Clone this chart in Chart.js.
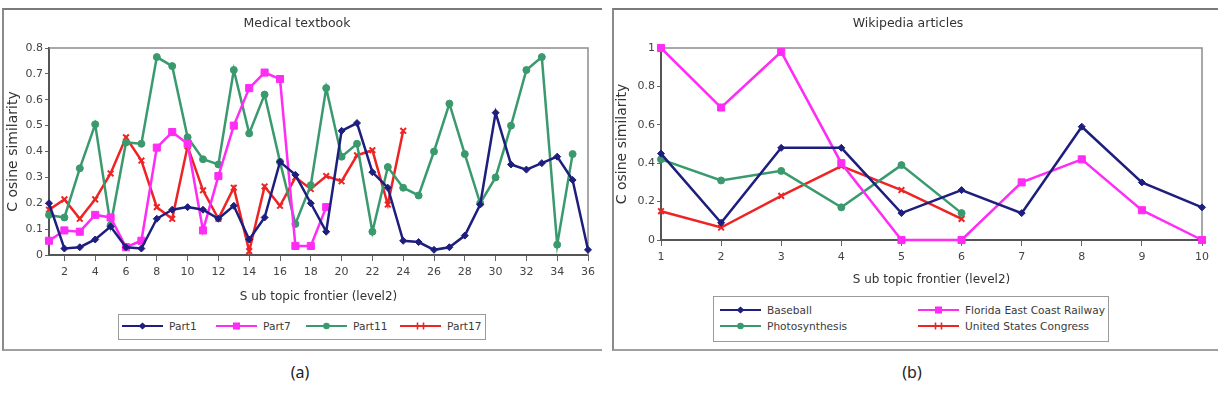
<!DOCTYPE html>
<html>
<head>
<meta charset="utf-8">
<script src="https://cdn.jsdelivr.net/npm/chart.js@4.4.1/dist/chart.umd.min.js"></script>
<style>
  body { margin: 0; background: #fff; width: 1218px; height: 393px; position: relative; overflow: hidden;
         font-family: 'DejaVu Sans', sans-serif; }
  .panel { position: absolute; top: 8px; height: 339px; border-top: 2px solid #7a7a7a;
           border-left: 2px solid #8a8a8a; border-bottom: 2px solid #a0a0a0; }
  #panelA { left: 2px; width: 598px; }
  #panelB { left: 612px; width: 604px; }
  canvas { position: absolute; }
  .legend { position: absolute; border: 1px solid #9a9a9a; background: #fff; font-size: 10.6px; color: #3a3a3a;
            font-family: 'DejaVu Sans', sans-serif; }
  .item { position: absolute; display: flex; align-items: center; height: 12px; white-space: nowrap; }
  .item svg { margin-right: 6px; }
  .caption { position: absolute; top: 361px; width: 60px; text-align: center;
             font: 16px 'Noto Sans', sans-serif; color: #222; }
</style>
</head>
<body>
<div class="panel" id="panelA"></div>
<div class="panel" id="panelB"></div>
<canvas id="chartA" width="596" height="338" style="left:4px;top:10px"></canvas>
<canvas id="chartB" width="602" height="338" style="left:614px;top:10px"></canvas>

<div class="legend" id="legendA" style="left:118px;top:314px;width:366px;height:24px"></div>
<div class="legend" id="legendB" style="left:713px;top:296px;width:394px;height:44px"></div>

<div class="caption" style="left:270px">(a)</div>
<div class="caption" style="left:882px">(b)</div>

<script>
// Panell (a): Medical textbook
const frontierA = [1, 2, 3, 4, 5, 6, 7, 8, 9, 10, 11, 12, 13, 14, 15, 16, 17, 18,
                   19, 20, 21, 22, 23, 24, 25, 26, 27, 28, 29, 30, 31, 32, 33, 34, 35, 36];
const xTicksA = [2, 4, 6, 8, 10, 12, 14, 16, 18, 20, 22, 24, 26, 28, 30, 32, 34, 36];
const yTicksA = [0, 0.1, 0.2, 0.3, 0.4, 0.5, 0.6, 0.7, 0.8];

const part1 = [0.20, 0.025, 0.03, 0.06, 0.11, 0.03, 0.025, 0.14, 0.175, 0.185, 0.175, 0.14,
               0.19, 0.06, 0.145, 0.36, 0.31, 0.20, 0.09, 0.48, 0.51, 0.32, 0.26, 0.055,
               0.05, 0.02, 0.03, 0.075, 0.195, 0.55, 0.35, 0.33, 0.355, 0.38, 0.29, 0.02];
const part7 = [0.055, 0.095, 0.09, 0.155, 0.145, 0.03, 0.055, 0.415, 0.475, 0.43, 0.095, 0.305,
               0.50, 0.645, 0.705, 0.68, 0.035, 0.035, 0.185];
const part11 = [0.155, 0.145, 0.335, 0.505, 0.115, 0.435, 0.43, 0.765, 0.73, 0.455, 0.37, 0.35,
                0.715, 0.47, 0.62, 0.36, 0.12, 0.27, 0.645, 0.38, 0.43, 0.09, 0.34, 0.26,
                0.23, 0.40, 0.585, 0.39, 0.20, 0.30, 0.50, 0.715, 0.765, 0.04, 0.39];
const part17 = [0.175, 0.215, 0.14, 0.215, 0.315, 0.455, 0.365, 0.185, 0.14, 0.42, 0.25, 0.14,
                0.26, 0.015, 0.265, 0.19, 0.30, 0.255, 0.305, 0.285, 0.385, 0.405, 0.195, 0.48];

// Panell (b): Wikipedia articles
const frontierB = [1, 2, 3, 4, 5, 6, 7, 8, 9, 10];
const yTicksB = [0, 0.2, 0.4, 0.6, 0.8, 1];

const baseball = [0.45, 0.09, 0.48, 0.48, 0.14, 0.26, 0.14, 0.59, 0.30, 0.17];
const florida = [1.0, 0.69, 0.98, 0.40, 0, 0, 0.30, 0.42, 0.155, 0];
const photosynthesis = [0.42, 0.31, 0.36, 0.17, 0.39, 0.14];
const congress = [0.15, 0.065, 0.23, 0.385, 0.26, 0.11];

const FONT = "'DejaVu Sans', sans-serif";
const NAVY = '#1e1e7e';
const MAGENTA = '#ff2cf5';
const GREEN = '#3a9a6e';
const RED = '#ee2424';

Chart.defaults.font.family = FONT;
Chart.defaults.color = '#444';

function points(xs, ys) {
  return ys.map((y, i) => ({ x: xs[i], y: y }));
}

function series(label, xs, ys, color, style, radius) {
  return {
    label: label,
    data: points(xs, ys),
    borderColor: color,
    backgroundColor: color,
    pointBackgroundColor: color,
    pointBorderColor: color,
    pointStyle: style,
    pointRadius: radius,
    pointBorderWidth: style === 'crossRot' ? 2 : 1,
    borderWidth: 2.5,
    tension: 0,
    fill: false,
    clip: false
  };
}

// marc superior i dret de l'àrea del gràfic
const plotFrame = {
  id: 'plotFrame',
  beforeDatasetsDraw(chart) {
    const { ctx, chartArea: a } = chart;
    ctx.save();
    ctx.strokeStyle = '#8c8c8c';
    ctx.lineWidth = 1.5;
    ctx.beginPath();
    ctx.moveTo(a.left, a.top);
    ctx.lineTo(a.right, a.top);
    ctx.lineTo(a.right, a.bottom);
    ctx.stroke();
    ctx.restore();
  }
};

function makeChart(id, o) {
  return new Chart(document.getElementById(id), {
    type: 'line',
    data: { datasets: o.datasets },
    plugins: [plotFrame],
    options: {
      responsive: false,
      animation: false,
      layout: { padding: { left: 0, top: 0, right: o.padRight, bottom: o.padBottom } },
      plugins: {
        legend: { display: false },
        tooltip: { enabled: false },
        title: {
          display: true,
          text: o.title,
          color: '#333',
          font: { family: FONT, size: 12.5, weight: 'normal', lineHeight: 1.2 },
          padding: { top: 6.5, bottom: 16.5 }
        }
      },
      scales: {
        x: {
          type: 'linear',
          min: o.xMin,
          max: o.xMax,
          afterBuildTicks: s => { s.ticks = o.xTicks.map(v => ({ value: v })); },
          grid: { drawOnChartArea: false, drawTicks: true, tickLength: 6, tickColor: '#666' },
          border: { display: true, color: '#555', width: 2 },
          ticks: { font: { size: 11 }, padding: 5, maxRotation: 0, color: '#444',
                   callback: v => String(v) },
          title: {
            display: true,
            text: 'S ub topic frontier (level2)',
            color: '#333',
            font: { size: 12, lineHeight: 1.2 },
            padding: { top: o.xTitlePad, bottom: 0 }
          }
        },
        y: {
          type: 'linear',
          min: 0,
          max: o.yMax,
          afterBuildTicks: s => { s.ticks = o.yTicks.map(v => ({ value: v })); },
          afterFit: s => { s.width = o.yWidth; },
          grid: { drawOnChartArea: false, drawTicks: true, tickLength: 4, tickColor: '#666' },
          border: { display: true, color: '#555', width: 2 },
          ticks: { font: { size: 11 }, padding: 2, color: '#444', callback: v => String(v) },
          title: {
            display: true,
            text: 'C osine similarity',
            color: '#333',
            font: { size: 14, lineHeight: 1.2 },
            padding: { top: o.yTitlePad, bottom: 0 }
          }
        }
      }
    }
  });
}

makeChart('chartA', {
  title: 'Medical textbook',
  datasets: [
    series('Part1', frontierA, part1, NAVY, 'rectRot', 3.5),
    series('Part7', frontierA, part7, MAGENTA, 'rect', 5),
    series('Part11', frontierA, part11, GREEN, 'circle', 3.5),
    series('Part17', frontierA, part17, RED, 'crossRot', 4)
  ],
  xMin: 1, xMax: 36, xTicks: xTicksA,
  yMax: 0.8, yTicks: yTicksA,
  padRight: 10, padBottom: 43.8, xTitlePad: 5.6,
  yWidth: 45, yTitlePad: 0.6
});

makeChart('chartB', {
  title: 'Wikipedia articles',
  datasets: [
    series('Baseball', frontierB, baseball, NAVY, 'rectRot', 3.5),
    series('Florida East Coast Railway', frontierB, florida, MAGENTA, 'rect', 5),
    series('Photosynthesis', frontierB, photosynthesis, GREEN, 'circle', 3.5),
    series('United States Congress', frontierB, congress, RED, 'crossRot', 4)
  ],
  xMin: 1, xMax: 10, xTicks: frontierB,
  yMax: 1, yTicks: yTicksB,
  padRight: 14, padBottom: 60.8, xTitlePad: 3.6,
  yWidth: 47, yTitlePad: 0
});

// llegendes (HTML, amb mostra de línia i marcador)
function sample(color, style) {
  let mark = '';
  if (style === 'rectRot') mark = `<polygon points="20.5,1.5 24.5,5 20.5,8.5 16.5,5" fill="${color}"/>`;
  if (style === 'rect') mark = `<rect x="17" y="1.5" width="7" height="7" fill="${color}"/>`;
  if (style === 'circle') mark = `<circle cx="20.5" cy="5" r="3.3" fill="${color}"/>`;
  if (style === 'crossRot') mark = `<path d="M17.5 1.5 L17.5 8.5 M23.5 1.5 L23.5 8.5" stroke="${color}" stroke-width="1.6"/>`;
  return `<svg width="41" height="10"><line x1="0" y1="5" x2="41" y2="5" stroke="${color}" stroke-width="2.2"/>${mark}</svg>`;
}

function fillLegend(id, items) {
  const box = document.getElementById(id);
  items.forEach(it => {
    const d = document.createElement('div');
    d.className = 'item';
    d.style.left = it.x + 'px';
    d.style.top = it.y + 'px';
    d.innerHTML = sample(it.color, it.style) + '<span>' + it.label + '</span>';
    box.appendChild(d);
  });
}

fillLegend('legendA', [
  { label: 'Part1', color: NAVY, style: 'rectRot', x: 3, y: 5 },
  { label: 'Part7', color: MAGENTA, style: 'rect', x: 97, y: 5 },
  { label: 'Part11', color: GREEN, style: 'circle', x: 187, y: 5 },
  { label: 'Part17', color: RED, style: 'crossRot', x: 281, y: 5 }
]);

fillLegend('legendB', [
  { label: 'Baseball', color: NAVY, style: 'rectRot', x: 6, y: 7 },
  { label: 'Florida East Coast Railway', color: MAGENTA, style: 'rect', x: 204, y: 7 },
  { label: 'Photosynthesis', color: GREEN, style: 'circle', x: 6, y: 23 },
  { label: 'United States Congress', color: RED, style: 'crossRot', x: 204, y: 23 }
]);
</script>
</body>
</html>
